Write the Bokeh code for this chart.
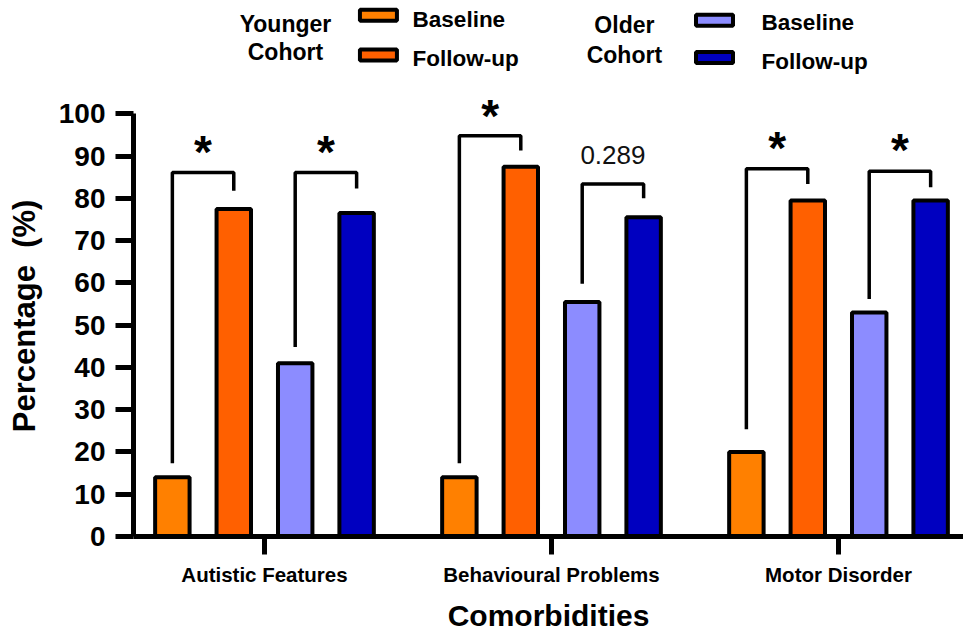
from bokeh.plotting import figure
from bokeh.models import Range1d, FixedTicker, ColumnDataSource
from bokeh.core.properties import value
from bokeh.embed import file_html
from bokeh.resources import INLINE

# ---------------- data ----------------
categories = ["Autistic Features", "Behavioural Problems", "Motor Disorder"]
series_names = ["Younger Baseline", "Younger Follow-up", "Older Baseline", "Older Follow-up"]
young_baseline = [14, 14, 20]
young_followup = [77.5, 87.5, 79.5]
older_baseline = [41, 55.5, 53]
older_followup = [76.5, 75.5, 79.5]
series_values = [young_baseline, young_followup, older_baseline, older_followup]
colors = ["#FF8000", "#FF6000", "#8C8CFF", "#0000C0"]
y_ticks = list(range(0, 101, 10))

# significance brackets, order: (cat0 young, cat0 older, cat1 young, ...)
sig_labels = ["*", "*", "*", "0.289", "*", "*"]
bracket_top = [86.1, 86.1, 94.8, 83.4, 87.0, 86.4]
bracket_left_bottom = [17.3, 44.8, 17.3, 59.8, 25.4, 56.2]
bracket_right_bottom = [81.8, 82.3, 91.3, 80.0, 83.4, 82.6]
label_y = [92.9, 92.9, 101.4, 90.3, 93.7, 93.3]

FONT = "Liberation Sans"
offsets = [-0.321, -0.107, 0.107, 0.321]
bar_w = 0.12

p = figure(width=963, height=634, output_backend="svg", toolbar_location=None,
           x_range=Range1d(-0.4564, 2.4355), y_range=Range1d(0, 126.8),
           min_border_left=133, min_border_right=0, min_border_top=0, min_border_bottom=98)
p.outline_line_color = None
p.xgrid.visible = False
p.ygrid.visible = False
p.background_fill_color = "white"
p.border_fill_color = "white"

# bars
for s, vals in enumerate(series_values):
    src = ColumnDataSource(dict(x=[i + offsets[s] for i in range(len(categories))], top=vals))
    p.vbar(x="x", top="top", width=bar_w, bottom=0, source=src,
           fill_color=colors[s], line_color="black", line_width=4)

# brackets
xs, ys = [], []
k = 0
for i in range(len(categories)):
    for c in range(2):
        xl = i + offsets[2 * c]
        xr = i + offsets[2 * c + 1]
        xs.append([xl, xl, xr, xr])
        ys.append([bracket_left_bottom[k], bracket_top[k], bracket_top[k], bracket_right_bottom[k]])
        k += 1
p.multi_line(xs=xs, ys=ys, line_color="black", line_width=3.5)

mid_x = [sum(x[1:3]) / 2 for x in xs]
star_idx = [j for j, t in enumerate(sig_labels) if t == "*"]
num_idx = [j for j, t in enumerate(sig_labels) if t != "*"]
p.text(x=[mid_x[j] for j in star_idx], y=[label_y[j] for j in star_idx],
       text=[sig_labels[j] for j in star_idx], text_align="center", text_baseline="middle",
       text_font=value(FONT), text_font_size="46px", text_font_style="bold",
       text_color="black", y_offset=8)
p.text(x=[mid_x[j] for j in num_idx], y=[label_y[j] for j in num_idx],
       text=[sig_labels[j] for j in num_idx], text_align="center", text_baseline="middle",
       text_font=value(FONT), text_font_size="26px", text_color="#111111")

# legend (drawn manually)
leg_groups = [("Younger", "Cohort", 0.073, 121.3, 114.5), ("Older", "Cohort", 1.254, 121.0, 114.0)]
sw_x = [0.397, 0.397, 1.568, 1.568]
sw_y = [123.3, 113.9, 122.1, 113.3]
lt_x = [0.516, 0.516, 1.732, 1.732]
lt_y = [122.3, 113.1, 121.6, 112.4]
leg_text = ["Baseline", "Follow-up", "Baseline", "Follow-up"]
p.rect(x=sw_x, y=sw_y, width=37, height=11, width_units="screen", height_units="screen",
       fill_color=colors, line_color="black", line_width=4)
p.text(x=lt_x, y=lt_y, text=leg_text, text_align="left", text_baseline="middle",
       text_font=value(FONT), text_font_size="22.5px", text_font_style="bold", text_color="black")
gx, gy, gt = [], [], []
for a, b, x, y1, y2 in leg_groups:
    gx += [x, x]; gy += [y1, y2]; gt += [a, b]
p.text(x=gx, y=gy, text=gt, text_align="center", text_baseline="middle",
       text_font=value(FONT), text_font_size="23px", text_font_style="bold", text_color="black")

# axes
ya = p.yaxis[0]
ya.ticker = FixedTicker(ticks=y_ticks)
ya.bounds = (0, 100)
ya.axis_line_width = 5
ya.major_tick_line_width = 5
ya.major_tick_out = 18
ya.major_tick_in = 0
ya.minor_tick_line_color = None
ya.major_label_text_font = FONT
ya.major_label_text_font_size = "28px"
ya.major_label_text_font_style = "bold"
ya.major_label_text_color = "black"
ya.major_label_standoff = 10
# trailing no-break spaces move the visible title down to the 0-100 span
ya.axis_label = "Percentage \u00a0(%)" + "\u00a0" * 11
ya.axis_label_text_font = FONT
ya.axis_label_text_font_size = "31px"
ya.axis_label_text_font_style = "bold"
ya.axis_label_text_color = "black"
ya.axis_label_standoff = 14

xa = p.xaxis[0]
xa.ticker = FixedTicker(ticks=list(range(len(categories))))
xa.major_label_overrides = {i: c for i, c in enumerate(categories)}
xa.axis_line_width = 5
xa.major_tick_line_width = 5
xa.major_tick_out = 18
xa.major_tick_in = 0
xa.minor_tick_line_color = None
xa.major_label_text_font = FONT
xa.major_label_text_font_size = "20.5px"
xa.major_label_text_font_style = "bold"
xa.major_label_text_color = "black"
xa.major_label_standoff = 8
xa.axis_label = "Comorbidities"
xa.axis_label_text_font = FONT
xa.axis_label_text_font_size = "30px"
xa.axis_label_text_font_style = "bold"
xa.axis_label_text_color = "black"
xa.axis_label_standoff = 10

open("out.html", "w").write(file_html(p, INLINE))
